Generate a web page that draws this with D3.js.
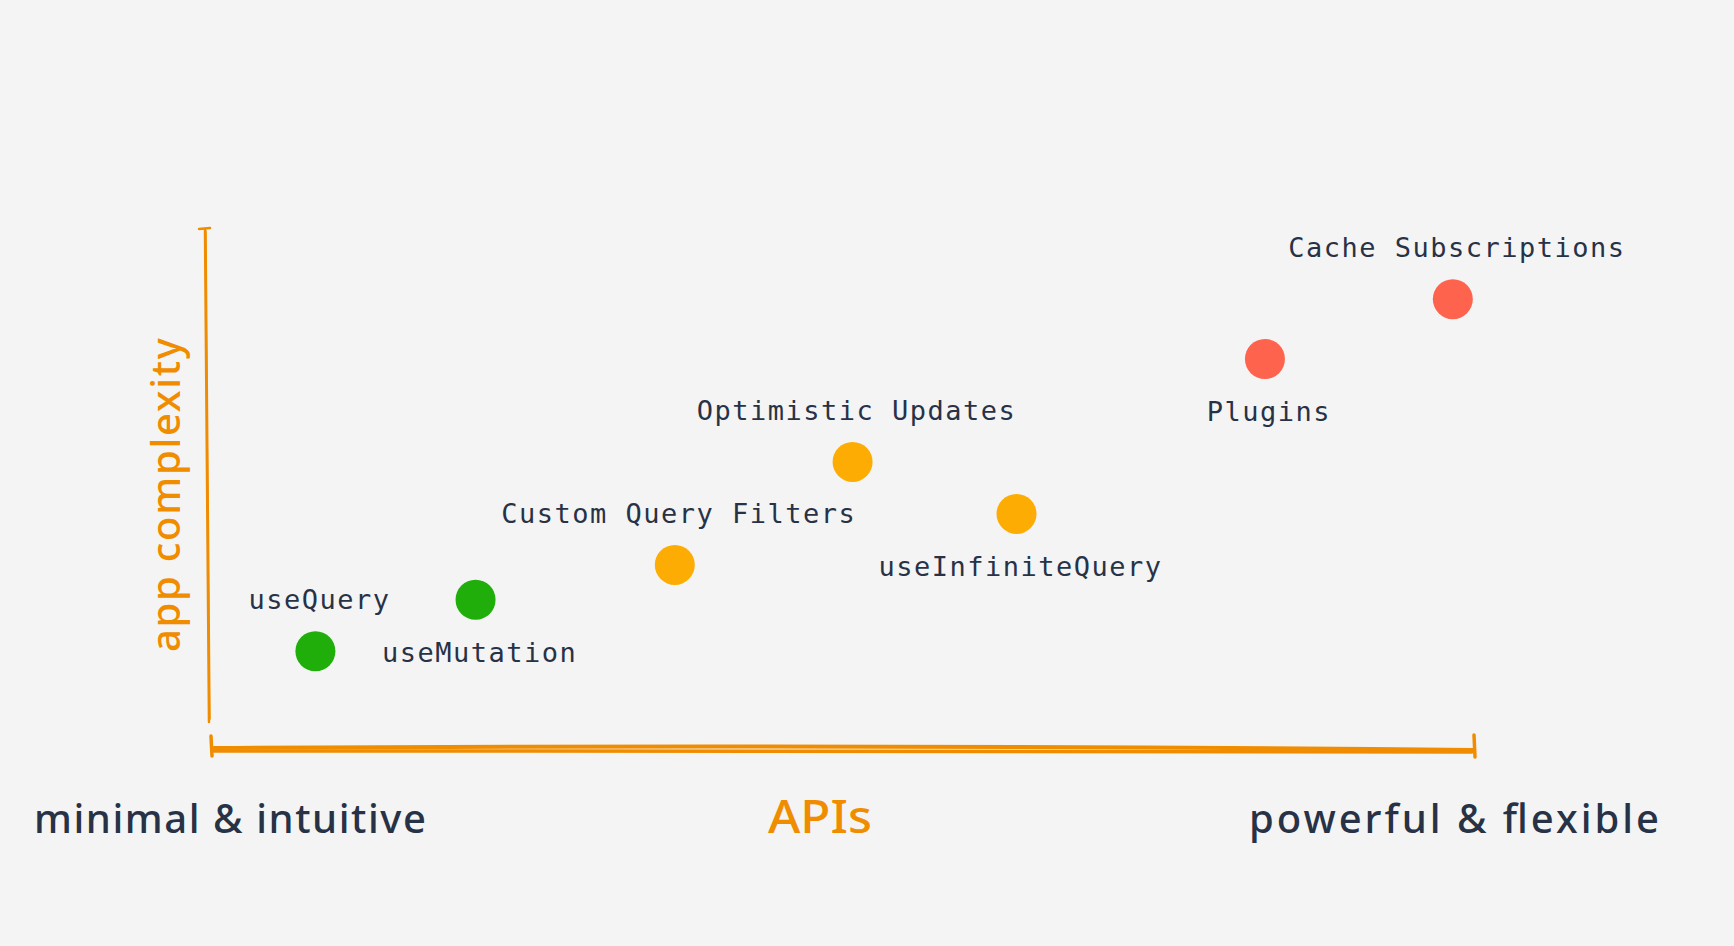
<!DOCTYPE html>
<html>
<head>
<meta charset="utf-8">
<script src="https://cdn.jsdelivr.net/npm/d3@7"></script>
<style>
  body { margin: 0; background: #f4f4f4; }
  svg { display: block; }
</style>
</head>
<body>
<div id="chart"></div>
<script>
// APIs: how powerful vs. how much app complexity they fit
var names = ["useQuery", "useMutation", "Custom Query Filters", "Optimistic Updates",
             "useInfiniteQuery", "Plugins", "Cache Subscriptions"];
var power = [8.2, 20.9, 36.7, 50.8, 63.8, 83.5, 98.4];
var complexity = [18.8, 28.7, 35.4, 55.2, 45.2, 75.0, 86.5];
var level = ["basic", "basic", "advanced", "advanced", "advanced", "expert", "expert"];
var labelSide = ["above", "below", "above", "above", "below", "below", "above"];

var xLabels = ["minimal & intuitive", "APIs", "powerful & flexible"];
var yLabel = "app complexity";

drawChart();
function drawChart(){
    var width = 1734, height = 946;
    var orange = "#f08c00", ink = "#283246";

    var data = names.map(function(d, i) {
        return {name: d, x: power[i], y: complexity[i], level: level[i], side: labelSide[i]};
    });

    var svg = d3.select("#chart")
      .append("svg")
        .attr("width", width)
        .attr("height", height)
        .style("background", "#f4f4f4");

    var x = d3.scaleLinear().domain([0, 100]).range([212, 1473]);
    var y = d3.scaleLinear().domain([0, 100]).range([749, 229]);
    var color = d3.scaleOrdinal()
        .domain(["basic", "advanced", "expert"])
        .range(["#20ae0b", "#fdac03", "#fe634e"]);

    // hand drawn looking strokes
    function sketch(x1, y1, x2, y2, bow, w) {
        var p = d3.path();
        p.moveTo(x1, y1);
        p.quadraticCurveTo((x1 + x2) / 2, (y1 + y2) / 2 + bow, x2, y2);
        svg.append("path")
            .attr("d", p.toString())
            .attr("fill", "none")
            .attr("stroke", orange)
            .attr("stroke-width", w)
            .attr("stroke-linecap", "round");
    }

    var x0 = x.range()[0], x1 = x.range()[1];
    var yb = y.range()[0], yt = y.range()[1];

    // x axis
    sketch(x0 + 2, yb - 1, x1, yb + 1, -5, 4);
    sketch(x0 + 2, yb + 2, x1 - 1, yb + 3, -1, 3.5);
    sketch(x0 - 1, yb - 13, x0, yb + 7, 0, 3.5);
    sketch(x1 + 1, yb - 14, x1 + 2, yb + 8, 0, 3.5);

    // y axis
    sketch(x0 - 7, yt, x0 - 3, yb - 27, 0, 2.5);
    sketch(x0 - 6, yt + 2, x0 - 2, yb - 30, 1, 1.5);
    sketch(x0 - 13, yt, x0 - 2, yt - 1, 0, 2.5);

    // dots
    svg.append("g")
        .selectAll("circle")
        .data(data)
        .enter()
        .append("circle")
        .attr("cx", function(d) { return x(d.x); })
        .attr("cy", function(d) { return y(d.y); })
        .attr("r", 20)
        .style("fill", function(d) { return color(d.level); });

    // point labels
    svg.append("g")
        .selectAll("text")
        .data(data)
        .enter()
        .append("text")
        .attr("x", function(d) { return x(d.x) + 4; })
        .attr("y", function(d) { return y(d.y) + (d.side == "above" ? -42 : 62); })
        .attr("text-anchor", "middle")
        .attr("font-family", "'DejaVu Sans Mono', monospace")
        .attr("font-size", 27)
        .attr("letter-spacing", 1.5)
        .attr("fill", ink)
        .text(function(d) { return d.name; });

    // axis captions
    var hand = "'Noto Sans', sans-serif";
    svg.append("text")
        .attr("x", 34).attr("y", 833)
        .attr("font-family", hand).attr("font-size", 40).attr("font-weight", 500)
        .attr("textLength", 392).attr("lengthAdjust", "spacing")
        .attr("fill", ink)
        .text(xLabels[0]);
    svg.append("text")
        .attr("x", 768).attr("y", 833)
        .attr("font-family", hand).attr("font-size", 46).attr("font-weight", 500)
        .attr("textLength", 104).attr("lengthAdjust", "spacingAndGlyphs")
        .attr("fill", orange)
        .text(xLabels[1]);
    svg.append("text")
        .attr("x", 1249).attr("y", 833)
        .attr("font-family", hand).attr("font-size", 40).attr("font-weight", 500)
        .attr("textLength", 410).attr("lengthAdjust", "spacing")
        .attr("fill", ink)
        .text(xLabels[2]);

    svg.append("text")
        .attr("transform", "translate(180,652)rotate(-90)")
        .attr("font-family", hand).attr("font-size", 40).attr("font-weight", 500)
        .attr("textLength", 314).attr("lengthAdjust", "spacing")
        .attr("fill", orange)
        .text(yLabel);
}
</script>
</body>
</html>
